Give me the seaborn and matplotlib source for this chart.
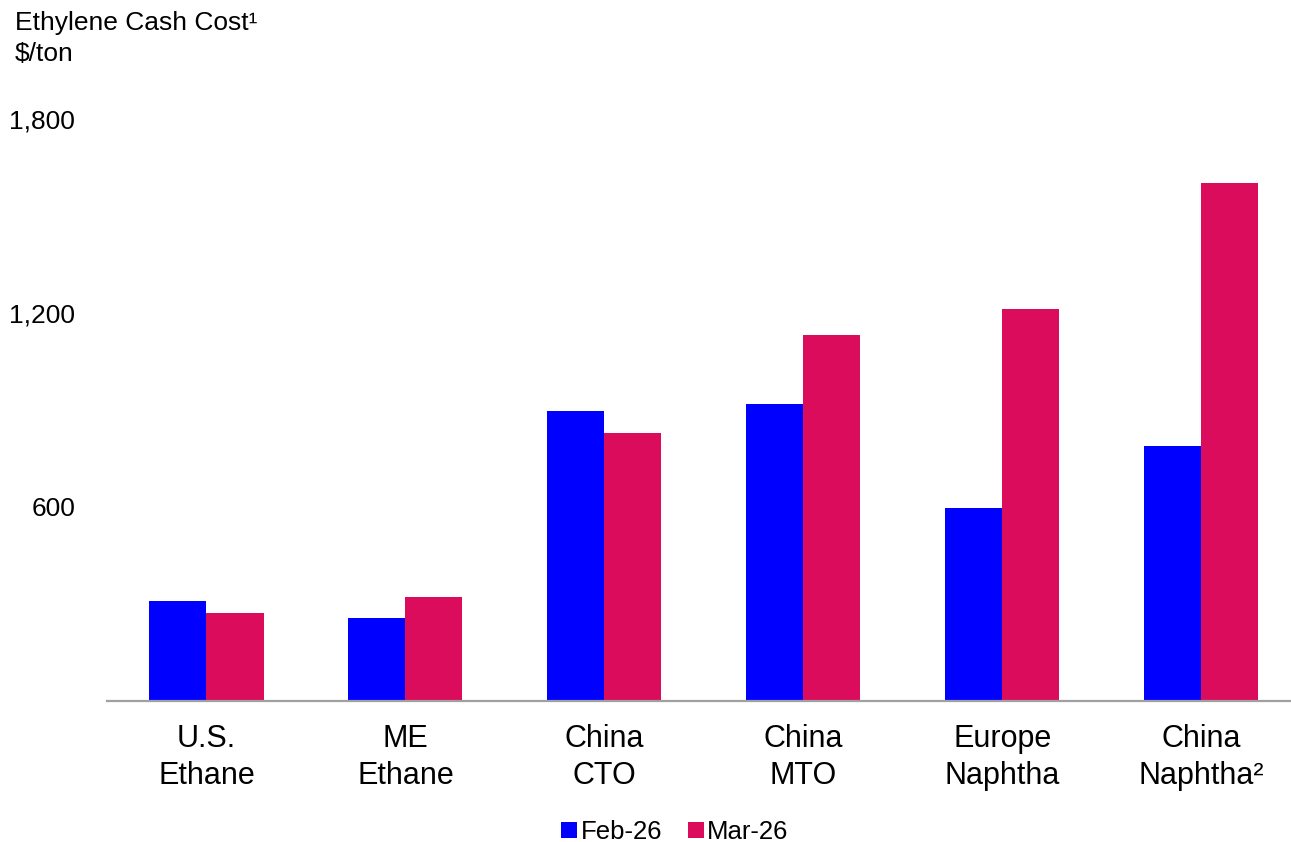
import matplotlib
matplotlib.use("Agg")
import matplotlib.pyplot as plt
import seaborn as sns
import pandas as pd
from matplotlib.lines import Line2D

# Ethylene cash cost by route, $/ton
categories = ["U.S.\nEthane", "ME\nEthane", "China\nCTO", "China\nMTO",
              "Europe\nNaphtha", "China\nNaphtha²"]
periods = ["Feb-26", "Mar-26"]
feb_values = [307, 257, 895, 917, 595, 788]
mar_values = [270, 320, 829, 1133, 1212, 1603]
y_ticks = [600, 1200, 1800]
y_tick_labels = ["600", "1,200", "1,800"]

colors = ["#0000FF", "#DA0C5B"]

df = pd.DataFrame({
    "category": categories * 2,
    "period": [periods[0]] * len(categories) + [periods[1]] * len(categories),
    "value": feb_values + mar_values,
})

sns.set_theme(style="white")
plt.rcParams["font.family"] = ["Liberation Sans", "DejaVu Sans"]
plt.rcParams["text.color"] = "black"

W, H = 1291, 842
fig = plt.figure(figsize=(W / 100, H / 100), dpi=100)
ax = fig.add_axes([107 / W, 1 - 700.7 / H, (W - 107) / W, (700.7 - 119) / H])

sns.barplot(data=df, x="category", y="value", hue="period", order=categories,
            hue_order=periods, palette=colors, width=0.573, saturation=1,
            linewidth=0, legend=False, ax=ax)

ax.set_xlim(-0.5, 5.45)
ax.set_ylim(0, 1800)
ax.set_yticks(y_ticks)
ax.set_yticklabels(y_tick_labels)
ax.set_xlabel("")
ax.set_ylabel("")
for s in ["top", "right", "left"]:
    ax.spines[s].set_visible(False)
ax.spines["bottom"].set_color("#A0A0A0")
ax.spines["bottom"].set_linewidth(1.6)
ax.tick_params(axis="y", length=0, pad=23, labelsize=19, labelcolor="black")
ax.tick_params(axis="x", length=0, pad=17, labelsize=22, labelcolor="black")
for lbl in ax.get_xticklabels():
    lbl.set_linespacing(1.28)
ax.grid(False)

fig.text(15 / W, 1 - 11 / H, "Ethylene Cash Cost¹\n$/ton", ha="left", va="top",
         fontsize=19, linespacing=1.38, color="black")

handles = [Line2D([], [], marker="s", linestyle="none", markersize=11,
                  markerfacecolor=c, markeredgewidth=0) for c in colors]
leg = fig.legend(handles, periods, loc="center", bbox_to_anchor=(675 / W, 1 - 832 / H),
                 ncol=2, frameon=False, fontsize=18.5, handlelength=0.6,
                 handletextpad=0.15, columnspacing=1.0, borderaxespad=0)
for t in leg.get_texts():
    t.set_color("black")

fig.savefig("out.png", dpi=100)
